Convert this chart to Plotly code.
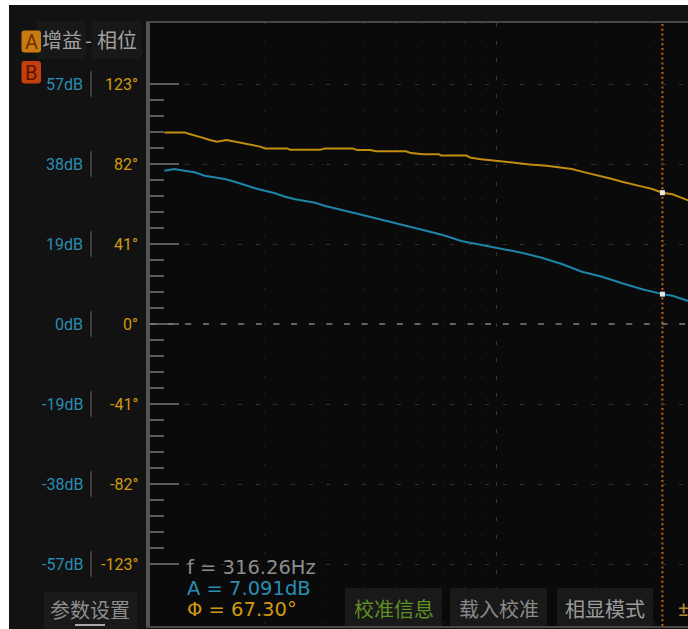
import plotly.graph_objects as go

# ---- measured sweep -------------------------------------------------------
freq_gain = [10.0, 10.72, 11.5, 12.33, 13.22, 14.17, 15.2, 16.29, 17.47, 18.73,
             20.09, 21.54, 23.09, 24.76, 26.55, 28.48, 30.53, 32.74, 35.11, 37.65,
             40.37, 43.29, 46.42, 49.77, 53.37, 57.22, 61.36, 65.79, 70.55, 78.32,
             90.06, 103.5, 119.1, 136.9, 157.4, 181.0, 208.1, 239.2, 275.0, 316.26,
             339.1, 384.4]
gain_db = [36.41, 36.81, 36.41, 36.03, 35.22, 34.84, 34.44, 33.80, 33.01, 32.23,
           31.66, 31.04, 30.23, 29.62, 29.21, 28.81, 28.03, 27.48, 26.91, 26.29,
           25.72, 25.10, 24.53, 23.92, 23.35, 22.87, 22.16, 21.54, 20.90, 19.71,
           18.76, 17.81, 16.93, 15.75, 14.25, 12.42, 11.23, 9.67, 8.24, 7.091,
           6.72, 5.30]

freq_phase = [10.0, 11.5, 11.9, 12.5, 13.0, 13.7, 14.4, 15.4, 16.5, 17.5,
              18.5, 19.4, 20.1, 23.4, 23.9, 29.5, 30.5, 36.8, 38.1, 41.7,
              43.3, 53.4, 55.3, 60.1, 67.1, 68.1, 81.1, 83.7, 90.1, 100.0,
              110.9, 125.9, 141.8, 155.4, 168.7, 181.0, 194.2, 208.1, 223.3, 239.2,
              256.6, 275.0, 294.9, 316.26, 339.1, 363.6, 384.4]
phase_deg = [98.2, 98.2, 97.4, 96.5, 95.5, 94.3, 93.4, 94.3, 93.4, 92.6,
             91.7, 90.9, 90.0, 90.0, 89.3, 89.3, 90.0, 90.0, 89.2, 89.2,
             88.5, 88.5, 87.6, 87.0, 87.0, 86.3, 86.3, 85.2, 84.4, 83.5,
             82.7, 81.8, 81.1, 80.3, 79.4, 78.1, 76.9, 75.5, 74.3, 72.9,
             71.8, 70.4, 69.2, 67.30, 66.5, 64.4, 62.9]

# cursor read-out
cursor_freq = 316.26
cursor_gain = 7.091
cursor_phase = 67.30

# ---- axis labelling ---------------------------------------------------------
gain_ticks = [57, 38, 19, 0, -19, -38, -57]
phase_ticks = [123, 82, 41, 0, -41, -82, -123]
gain_labels = ["57dB", "38dB", "19dB", "0dB", "-19dB", "-38dB", "-57dB"]
phase_labels = ["123°", "82°", "41°", "0°", "-41°", "-82°", "-123°"]
decade_lines = [100]
minor_freq_lines = [20, 30, 40, 50, 60, 70, 80, 90, 200, 300]

header_left = "增益"
header_right = "相位"
settings_label = "参数设置"
button_labels = ["校准信息", "载入校准", "相显模式"]

# ---- styling ------------------------------------------------------------------
W, H = 688, 629
PL, PR, PT, PB = 150, 688, 23, 626          # plot area in pixels
BLUE = "#1d86a8"
ORANGE = "#c38d0d"
BLUE_TXT = "#2b8cb3"
ORANGE_TXT = "#cf9a12"
NUM_FONT = "Roboto"
READ_FONT = "DejaVu Sans"
CJK_FONT = "Noto Sans CJK SC"

GAIN_RANGE = [-71.725, 71.4875]
PHASE_SCALE = 41 / 19
PHASE_RANGE = [GAIN_RANGE[0] * PHASE_SCALE, GAIN_RANGE[1] * PHASE_SCALE]
X_RANGE = [0.9566, 2.5771]                  # log10(Hz)


def px(x):
    return (x - PL) / (PR - PL)


def py(y):
    return (PB - y) / (PB - PT)


def rounded_rect(x0, y0, x1, y1, r):
    pts = [
        f"M{px(x0 + r)},{py(y0)}",
        f"L{px(x1 - r)},{py(y0)}",
        f"Q{px(x1)},{py(y0)} {px(x1)},{py(y0 + r)}",
        f"L{px(x1)},{py(y1 - r)}",
        f"Q{px(x1)},{py(y1)} {px(x1 - r)},{py(y1)}",
        f"L{px(x0 + r)},{py(y1)}",
        f"Q{px(x0)},{py(y1)} {px(x0)},{py(y1 - r)}",
        f"L{px(x0)},{py(y0 + r)}",
        f"Q{px(x0)},{py(y0)} {px(x0 + r)},{py(y0)}",
        "Z",
    ]
    return " ".join(pts)


def label(text, x, y, size, color, family, xanchor="center"):
    return dict(text=text, xref="paper", yref="paper", x=px(x), y=py(y),
                xanchor=xanchor, yanchor="middle", showarrow=False,
                font=dict(family=family, size=size, color=color))


fig = go.Figure()

fig.add_trace(go.Scatter(x=freq_phase, y=phase_deg, yaxis="y2", mode="lines",
                         line=dict(color=ORANGE, width=2), hoverinfo="skip"))
fig.add_trace(go.Scatter(x=freq_gain, y=gain_db, mode="lines",
                         line=dict(color=BLUE, width=2), hoverinfo="skip"))
fig.add_trace(go.Scatter(x=[cursor_freq], y=[cursor_phase], yaxis="y2", mode="markers",
                         marker=dict(symbol="square", size=5, color="#e6e6e6"),
                         hoverinfo="skip"))
fig.add_trace(go.Scatter(x=[cursor_freq], y=[cursor_gain], mode="markers",
                         marker=dict(symbol="square", size=5, color="#e6e6e6"),
                         hoverinfo="skip"))

shapes = []
annotations = []

# white frame strips around the instrument window
shapes.append(dict(type="rect", xref="paper", yref="paper", x0=px(0), x1=px(W),
                   y0=py(5), y1=py(0), fillcolor="white", line_width=0, layer="above"))
shapes.append(dict(type="rect", xref="paper", yref="paper", x0=px(0), x1=px(9),
                   y0=py(H), y1=py(0), fillcolor="white", line_width=0, layer="above"))

# brighter dashed 0 dB reference
shapes.append(dict(type="line", xref="paper", yref="y", x0=0, x1=1, y0=0, y1=0,
                   line=dict(color="#7c7c7c", width=1.5, dash="6px,11.64px"), layer="above"))

# cursor
shapes.append(dict(type="line", xref="x", yref="paper", x0=cursor_freq, x1=cursor_freq,
                   y0=0, y1=1, line=dict(color="#c2610d", width=2, dash="2px,2.8px"),
                   layer="below"))

# tick labels: gain | phase
for g, p, gl, pl in zip(gain_ticks, phase_ticks, gain_labels, phase_labels):
    annotations.append(dict(text=gl, xref="paper", yref="y", x=px(85), y=g,
                            xanchor="right", yanchor="middle", showarrow=False,
                            font=dict(family=NUM_FONT, size=16, color=BLUE_TXT)))
    annotations.append(dict(text=pl, xref="paper", yref="y", x=px(140), y=p / PHASE_SCALE,
                            xanchor="right", yanchor="middle", showarrow=False,
                            font=dict(family=NUM_FONT, size=16, color=ORANGE_TXT)))
    shapes.append(dict(type="line", xref="paper", yref="y", x0=px(91), x1=px(91),
                       y0=g - 3.0, y1=g + 3.0, line=dict(color="#4e4e4e", width=1.5)))

# header: A/B badges and title tabs
shapes.append(dict(type="path", xref="paper", yref="paper",
                   path=rounded_rect(37, 21, 86, 59, 2), fillcolor="#181818", line_width=0))
shapes.append(dict(type="path", xref="paper", yref="paper",
                   path=rounded_rect(92, 21, 142, 59, 2), fillcolor="#181818", line_width=0))
shapes.append(dict(type="path", xref="paper", yref="paper",
                   path=rounded_rect(21.5, 30.5, 41, 52.5, 3), fillcolor="#c97a12", line_width=0))
shapes.append(dict(type="path", xref="paper", yref="paper",
                   path=rounded_rect(21.5, 61, 41, 83.5, 3), fillcolor="#c4400e", line_width=0))
annotations.append(label("A", 31.2, 42, 20, "#6b3500", NUM_FONT))
annotations.append(label("B", 31.2, 72.5, 20, "#5c1500", NUM_FONT))
annotations.append(label(header_left, 62, 40, 20, "#a3a3a3", CJK_FONT))
annotations.append(label("-", 88.5, 40, 20, "#a3a3a3", CJK_FONT))
annotations.append(label(header_right, 116.5, 40, 20, "#a3a3a3", CJK_FONT))

# settings button
shapes.append(dict(type="rect", xref="paper", yref="paper", x0=px(44), x1=px(137),
                   y0=py(H), y1=py(592), fillcolor="#1a1a1a", line_width=0))
shapes.append(dict(type="line", xref="paper", yref="paper", x0=px(75), x1=px(105),
                   y0=py(625), y1=py(625), line=dict(color="#a8a8a8", width=2)))
annotations.append(label(settings_label, 90, 609, 20, "#8e8e8e", CJK_FONT))

# bottom tool buttons
button_boxes = [(345, 442), (450, 547), (557, 653)]
button_colors = ["#5f8f25", "#8a8a8a", "#9c9c9c"]
for (x0, x1), lab, col in zip(button_boxes, button_labels, button_colors):
    shapes.append(dict(type="rect", xref="paper", yref="paper", x0=px(x0), x1=px(x1),
                       y0=py(626), y1=py(588), fillcolor="#191919", line_width=0, layer="above"))
    annotations.append(label(lab, (x0 + x1) / 2, 608.5, 20, col, CJK_FONT))
annotations.append(label("±", 676, 608.5, 20, "#b48a30", NUM_FONT, xanchor="left"))

# cursor read-out
readouts = [
    (f"f = {cursor_freq:.2f}Hz", "#8c8c8c", 567),
    (f"A = {cursor_gain:.3f}dB", BLUE_TXT, 588),
    (f"Φ = {cursor_phase:.2f}°", ORANGE_TXT, 609),
]
for txt, col, yy in readouts:
    annotations.append(label(txt, 185, yy, 19.5, col, READ_FONT, xanchor="left"))

minor_gain_ticks = [round(k * 3.8, 2) for k in range(-15, 16) if k % 5]

fig.update_layout(
    width=W, height=H,
    margin=dict(l=PL, r=W - PR, t=PT, b=H - PB, pad=0),
    paper_bgcolor="#121212",
    plot_bgcolor="#0a0a0a",
    showlegend=False,
    hovermode=False,
    xaxis=dict(
        type="log", range=X_RANGE, showticklabels=False, ticks="",
        tickmode="array", tickvals=decade_lines,
        showgrid=True, gridcolor="#363636", gridwidth=1, griddash="4px,13.64px",
        minor=dict(tickmode="array", tickvals=minor_freq_lines, ticks="",
                   showgrid=True, gridcolor="#2e2e2e", gridwidth=1, griddash="1px,16.64px"),
        showline=True, linecolor="#474747", linewidth=2, mirror=True, zeroline=False,
    ),
    yaxis=dict(
        range=GAIN_RANGE, tickmode="array", tickvals=gain_ticks, showticklabels=False,
        ticks="inside", ticklen=29, tickwidth=2, tickcolor="#5c5c5c",
        showgrid=True, gridcolor="#303030", gridwidth=1, griddash="4px,13.64px",
        minor=dict(tickmode="array", tickvals=minor_gain_ticks, ticks="inside",
                   ticklen=14, tickwidth=2, tickcolor="#5c5c5c", showgrid=False),
        showline=True, linecolor="#555555", linewidth=4, zeroline=False,
    ),
    yaxis2=dict(range=PHASE_RANGE, overlaying="y", visible=False),
    shapes=shapes,
    annotations=annotations,
)

fig.write_html("out.html", config={"displayModeBar": False})
